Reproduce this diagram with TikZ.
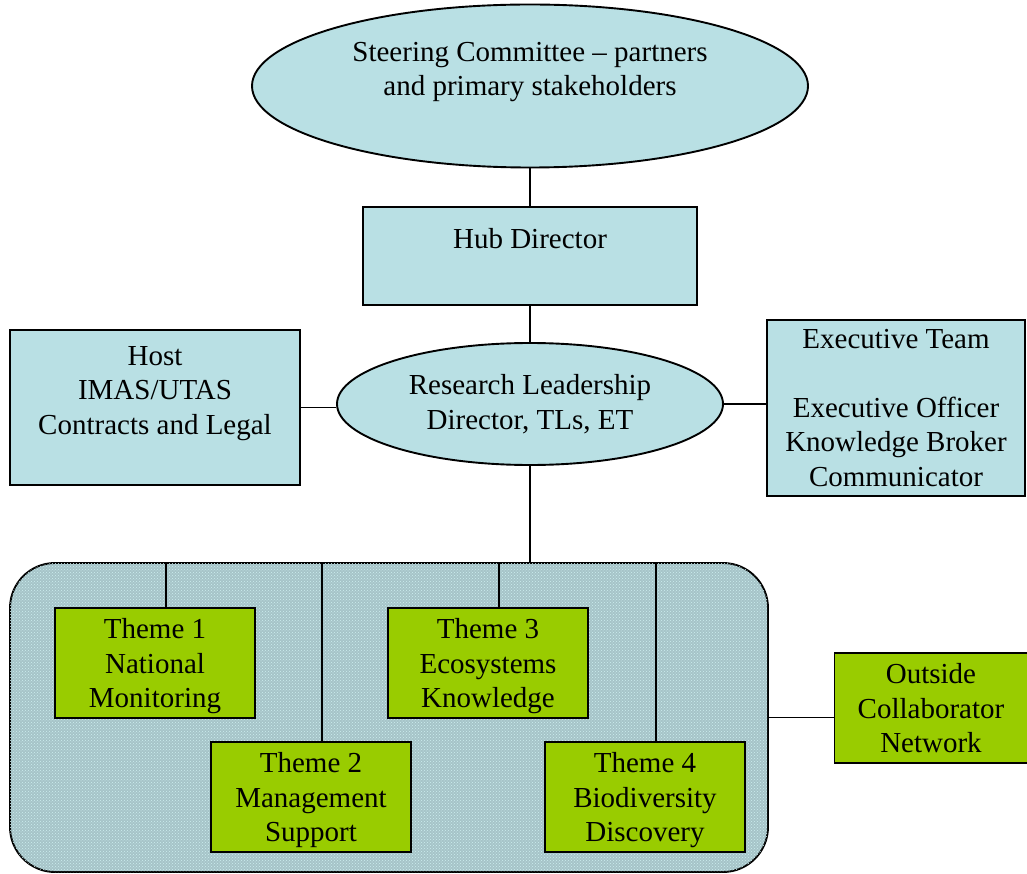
\documentclass[tikz,border=0pt]{standalone}
\usepackage{fontspec}
\setmainfont{Liberation Serif}
\usetikzlibrary{shapes.geometric,patterns}
\definecolor{paleblue}{RGB}{185,224,228}
\definecolor{themegreen}{RGB}{153,204,0}
\definecolor{dotback}{RGB}{166,196,200}
\definecolor{dotfront}{RGB}{205,238,240}

\begin{document}
\begin{tikzpicture}[x=1pt,y=-1pt,line width=1.9pt,
        font=\fontsize{29}{34.5}\selectfont,
        bluebox/.style={draw,fill=paleblue,align=center,inner sep=0pt},
        blueoval/.style={draw,fill=paleblue,ellipse,align=center,inner sep=0pt},
        themebox/.style={draw,fill=themegreen,align=center,inner sep=0pt,minimum width=200pt,minimum height=110pt,text depth=-4pt}]
        \useasboundingbox (0,0) rectangle (1027,874);
        \node[draw,rounded corners=45pt,fill=dotback,postaction={pattern=crosshatch dots,pattern color=dotfront},minimum width=758pt,minimum height=309pt] (themes) at (389,717.5) {};
        \node[blueoval,minimum width=556pt,minimum height=163pt] (steering) at (530,86) {Steering Committee -- partners\\and primary stakeholders\\\mbox{}};
        \node[bluebox,minimum width=334pt,minimum height=98pt] (hub) at (530,256) {Hub Director\\\mbox{}};
        \node[blueoval,minimum width=386pt,minimum height=122pt] (research) at (530,404) {Research Leadership\\Director, TLs, ET};
        \node[bluebox,minimum width=290pt,minimum height=155pt] (host) at (155,407.5) {Host\\IMAS/UTAS\\Contracts and Legal\\\mbox{}};
        \node[bluebox,minimum width=258pt,minimum height=176pt] (exec) at (896,408) {Executive Team\\\mbox{}\\Executive Officer\\Knowledge Broker\\Communicator};
        \node[themebox] (t1) at (155,663) {Theme 1\\National\\Monitoring};
        \node[themebox] (t3) at (488,663) {Theme 3\\Ecosystems\\Knowledge};
        \node[themebox] (t2) at (311,797) {Theme 2\\Management\\Support};
        \node[themebox] (t4) at (645,797) {Theme 4\\Biodiversity\\Discovery};
        \node[themebox,minimum width=193pt] (outside) at (931,708) {Outside\\Collaborator\\Network};
        \draw (steering.south) -- (hub.north);
        \draw (hub.south) -- (research.north);
        \draw (host.east) -- (host.east -| research.west);
        \draw (research.east) -- (research.east -| exec.west);
        \draw (research.south) -- (research.south |- themes.north);
        \foreach \t in {t1,t2,t3,t4}
                \draw ([xshift=11pt]\t.north |- themes.north) -- ([xshift=11pt]\t.north);
        \draw (themes.east) -- (themes.east -| outside.west);
\end{tikzpicture}
\end{document}
